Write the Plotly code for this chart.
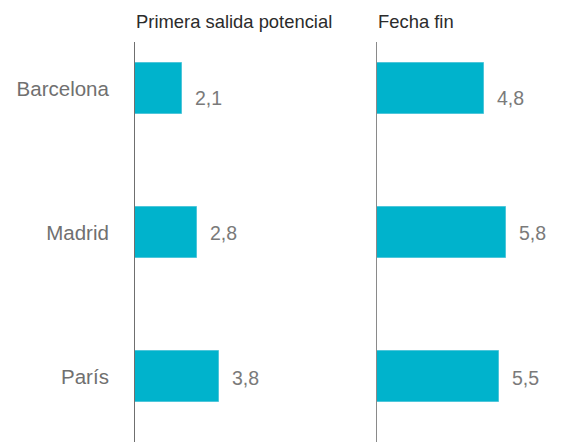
import plotly.graph_objects as go

# Ciudades y meses (primera salida potencial / fecha fin)
ciudades = ["Barcelona", "Madrid", "París"]
primera_salida = [2.1, 2.8, 3.8]
fecha_fin = [4.8, 5.8, 5.5]
titulos = ["Primera salida potencial", "Fecha fin"]

BAR = "#00b3cc"
FONT = "Liberation Sans, Arial, Helvetica, sans-serif"

W, H = 563, 442
ML, MT = 135, 42
plot_w = W - ML
px_per_unit = 22.2
left_w, right_start = 225, 242

fig = go.Figure()
for i, vals in enumerate([primera_salida, fecha_fin]):
    fig.add_trace(go.Bar(
        x=vals, y=ciudades, orientation="h",
        width=0.36,
        marker=dict(color=BAR, line=dict(color="#4fc6da", width=1)),
        xaxis="x" if i == 0 else "x2",
        yaxis="y" if i == 0 else "y2",
        hoverinfo="skip",
    ))

def fmt(v):
    return f"{v:.1f}".replace(".", ",")

annotations = []
# small vertical nudge of value labels per row
nudge = {"Barcelona": -9, "Madrid": 0, "París": -1}
for i, vals in enumerate([primera_salida, fecha_fin]):
    xr = "x" if i == 0 else "x2"
    yr = "y" if i == 0 else "y2"
    for c, v in zip(ciudades, vals):
        annotations.append(dict(
            x=v, y=c, xref=xr, yref=yr, text=fmt(v), showarrow=False,
            xanchor="left", yanchor="middle", xshift=11, yshift=nudge[c],
            font=dict(family=FONT, size=19.5, color="#7a7a7a"),
        ))
    annotations.append(dict(
        x=0, xref=("x domain" if i == 0 else "x2 domain"),
        y=1 + 20 / (H - MT), yref="paper",
        text=titulos[i], showarrow=False, xanchor="left", yanchor="middle",
        xshift=-1,
        font=dict(family=FONT, size=18.4, color="#2b2b2b"),
    ))

y_top = -0.323
y_bot = y_top + (H - MT) / 144.0

common_x = dict(showgrid=False, zeroline=False, showticklabels=False,
                showline=False, fixedrange=True)
fig.update_layout(
    width=W, height=H,
    margin=dict(l=ML, r=0, t=MT, b=0),
    paper_bgcolor="white", plot_bgcolor="white",
    showlegend=False,
    bargap=0,
    xaxis=dict(domain=[0, left_w / plot_w],
               range=[0, left_w / px_per_unit], **common_x),
    xaxis2=dict(domain=[right_start / plot_w, 1],
                range=[0, (plot_w - right_start) / px_per_unit], **common_x),
    yaxis=dict(anchor="x", range=[y_bot, y_top], showgrid=False,
               showline=True, linecolor="#6f6f6f", linewidth=1,
               ticks="", ticklabelstandoff=21,
               tickfont=dict(family=FONT, size=20.5, color="#707070")),
    yaxis2=dict(anchor="x2", matches="y", range=[y_bot, y_top],
                showgrid=False, showline=True, linecolor="#8a8a8a",
                linewidth=1, showticklabels=False, ticks=""),
    annotations=annotations,
)

fig.write_html("out.html")
